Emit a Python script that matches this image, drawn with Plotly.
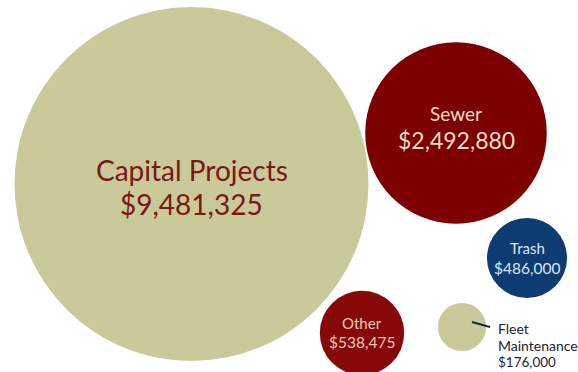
import plotly.graph_objects as go

# ---- data ----
categories = ["Capital Projects", "Sewer", "Trash", "Other", "Fleet Maintenance"]
amounts = [9481325, 2492880, 486000, 538475, 176000]

# ---- layout (bubble centres in a 578x372 pixel-like space) ----
bubble_x = [191.5, 456, 527, 362, 462]
bubble_y = [184, 133, 258, 333, 327]
bubble_colors = ["#c9c99a", "#7c0000", "#0e3c72", "#860808", "#c9c99a"]
max_radius_px = 177

W, H = 578, 372
sizeref = max(amounts) / (2 * max_radius_px ** 2)

fig = go.Figure()
fig.add_trace(go.Scatter(
    x=bubble_x, y=bubble_y, mode="markers",
    marker=dict(size=amounts, sizemode="area", sizeref=sizeref,
                color=bubble_colors, line=dict(width=0), opacity=1),
    hoverinfo="text", text=categories, showlegend=False,
))

# leader line for the small bubble
fig.add_trace(go.Scatter(
    x=[472, 490], y=[322, 327], mode="lines",
    line=dict(color="#0f2a48", width=2), showlegend=False, hoverinfo="skip",
))

FONT = "Lato, 'Open Sans', sans-serif"

def money(v):
    return "${:,}".format(v)

ann = []
# Capital Projects
ann.append(dict(x=bubble_x[0], y=170, text=categories[0],
                font=dict(size=28, color="#7a1814", family=FONT)))
ann.append(dict(x=bubble_x[0], y=204, text=money(amounts[0]),
                font=dict(size=28, color="#7a1814", family=FONT)))
# Sewer
ann.append(dict(x=bubble_x[1], y=113, text=categories[1],
                font=dict(size=19, color="#f0dcc4", family=FONT)))
ann.append(dict(x=bubble_x[1], y=140, text=money(amounts[1]),
                font=dict(size=23, color="#f0dcc4", family=FONT)))
# Trash
ann.append(dict(x=bubble_x[2], y=248, text=categories[2],
                font=dict(size=15, color="#dbe6f2", family=FONT)))
ann.append(dict(x=bubble_x[2], y=268, text=money(amounts[2]),
                font=dict(size=15.5, color="#dbe6f2", family=FONT)))
# Other
ann.append(dict(x=bubble_x[3], y=323, text=categories[3],
                font=dict(size=15, color="#ecc8b8", family=FONT)))
ann.append(dict(x=bubble_x[3], y=342, text=money(amounts[3]),
                font=dict(size=15.5, color="#ecc8b8", family=FONT)))
# Fleet Maintenance (outside, left aligned)
ann.append(dict(x=496, y=328, text="Fleet", xanchor="left",
                font=dict(size=14, color="#1a2436", family=FONT)))
ann.append(dict(x=496, y=345, text="Maintenance", xanchor="left",
                font=dict(size=14, color="#1a2436", family=FONT)))
ann.append(dict(x=496, y=362, text=money(amounts[4]), xanchor="left",
                font=dict(size=13.5, color="#1a2436", family=FONT)))

for a in ann:
    a.setdefault("xanchor", "center")
    a["yanchor"] = "middle"
    a["showarrow"] = False
    a["xref"] = "x"
    a["yref"] = "y"

fig.update_layout(
    width=W, height=H,
    margin=dict(l=0, r=0, t=0, b=0),
    paper_bgcolor="white", plot_bgcolor="white",
    xaxis=dict(range=[0, W], visible=False, fixedrange=True),
    yaxis=dict(range=[H, 0], visible=False, fixedrange=True),
    annotations=ann,
)

fig.write_html(
    "out.html",
    config={"displayModeBar": False},
    post_script="document.body.style.margin='0';document.body.style.overflow='hidden';",
)
